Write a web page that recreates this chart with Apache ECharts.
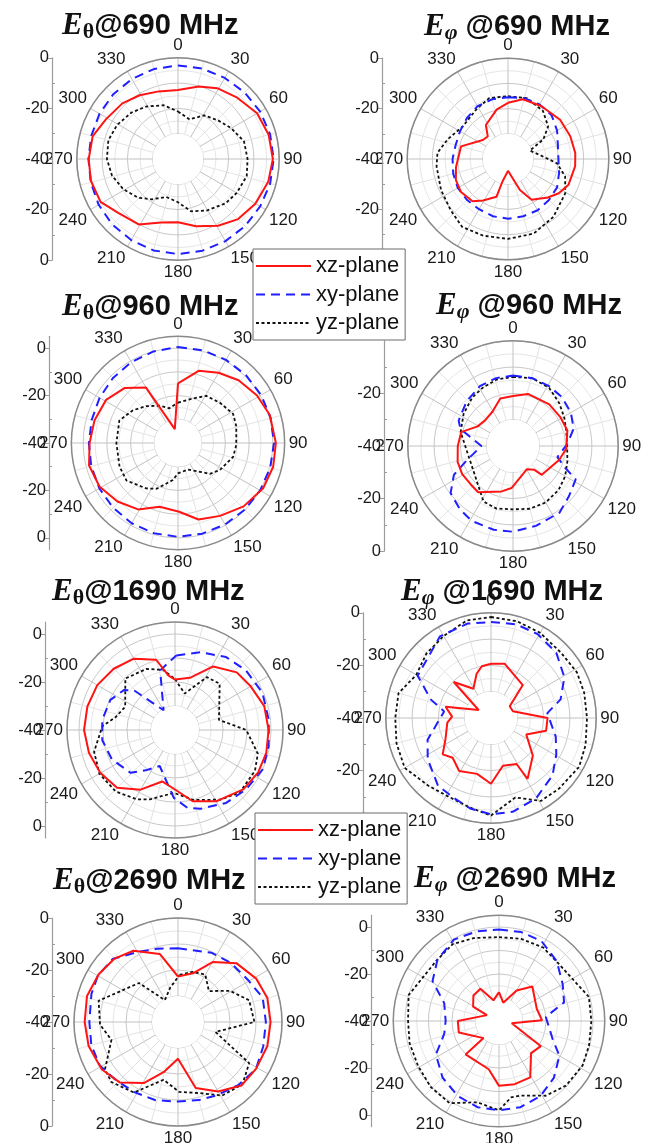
<!DOCTYPE html>
<html>
<head>
<meta charset="utf-8">
<script src="https://cdn.jsdelivr.net/npm/echarts@6/dist/echarts.min.js"></script>
<style>
  html, body { margin: 0; padding: 0; background: #ffffff; }
  #chart { width: 651px; height: 1143px; }
</style>
</head>
<body>
<div id="chart"></div>
<script>
// Radiation patterns: normalised gain (dB) versus angle (deg) for three cut planes.
// Each array holds [angle, gain] vertices of one measured curve.
const FREQS = ['690', '960', '1690', '2690'];
const PLANES = ['xz-plane', 'xy-plane', 'yz-plane'];
const ANGLE_TICKS = [0, 30, 60, 90, 120, 150, 180, 210, 240, 270, 300, 330];
const SCALE_TICKS = [0, -20, -40, -20, 0];

// E-theta, 690 MHz
const thetaXz690 = [[0,-12.7],[16,-10.2],[29,-8],[44,-6.3],[60,-3.9],[75,-2.9],[90,-2.5],[104,-3.2],[120,-4.7],[135,-6.4],[149,-9.2],[165,-12.5],[180,-15],[195,-14],[211,-9.8],[228,-8.2],[241,-5],[256,-4.5],[270,-4.7],[285,-5.1],[299,-7.5],[315,-8.9],[329,-10.6],[344,-12.2]];
const thetaXy690 = [[0,-3],[15,-3],[30,-3],[45,-2.8],[60,-2.5],[75,-2.3],[90,-2.2],[105,-2.3],[120,-2.5],[135,-2.5],[150,-2.5],[165,-2.5],[180,-2.4],[195,-2.6],[210,-3],[225,-3.3],[240,-3.8],[255,-4.3],[270,-4.6],[285,-4.5],[300,-4.2],[315,-3.8],[330,-3.5],[345,-3.2]];
const thetaYz690 = [[0,-21.2],[16,-23.7],[31,-19.9],[46,-18],[60,-15.7],[75,-13],[90,-12.5],[104,-12],[120,-13.2],[133,-14.3],[151,-16.7],[166,-18.7],[180,-22.9],[197,-24.3],[213,-21],[226,-18],[241,-15.3],[256,-13.1],[270,-11.9],[285,-11.5],[299,-12.4],[315,-14],[329,-15.8],[345,-18]];

// E-phi, 690 MHz
const phiXz690 = [[0,-17.7],[14,-15.6],[32,-15.2],[53,-14.1],[70,-13.7],[85,-13.2],[96,-13.2],[113,-13.9],[124,-15.7],[134,-18],[150,-21.3],[159,-26.8],[180,-35.3],[194,-30.7],[197,-24.3],[211,-20.8],[220,-18.1],[235,-17.2],[248,-17.7],[261,-19.1],[285,-20.7],[307,-27.5],[318,-28],[327,-23.9],[347,-19.9]];
const phiXy690 = [[0,-15.5],[15,-15],[30,-15],[45,-15.5],[60,-17.5],[75,-19.5],[90,-20],[105,-19],[120,-17.5],[135,-17],[150,-16.5],[165,-16.5],[180,-16.3],[195,-16.5],[210,-17],[225,-17],[240,-17],[255,-17.5],[270,-18],[285,-18.5],[300,-18],[315,-17],[330,-15.8],[345,-15.5]];
const phiYz690 = [[0,-15.1],[17,-14.7],[36,-16.4],[51,-19.5],[61,-24],[69,-30.7],[83,-27.2],[95,-20.5],[107,-16.3],[121,-13.5],[142,-10.8],[161,-8.7],[180,-8.3],[198,-8],[214,-7.5],[228,-9.5],[245,-10.7],[264,-11.5],[275,-11.9],[288,-14.8],[306,-17.9],[327,-16.7],[343,-14.7]];

// E-theta, 960 MHz
const thetaXz960 = [[0,-14.8],[16,-8.3],[30,-5.8],[44,-3.2],[59,-1.1],[73,0.5],[90,1.3],[104,1.4],[118,0.7],[134,-1.5],[150,-4.5],[165,-6.6],[179,-11],[196,-12],[211,-7.3],[226,-4.5],[241,-2.1],[256,-1.3],[270,-2.7],[285,-3.5],[301,-4.6],[316,-7.7],[330,-13],[347,-34]];
const thetaXy960 = [[0,0.5],[15,0.5],[30,0.5],[45,0.5],[60,0.5],[75,0.5],[90,0.5],[105,0.3],[120,0],[135,-0.2],[150,-0.3],[165,-0.4],[180,-0.4],[195,-0.6],[210,-0.9],[225,-1.3],[240,-1.7],[255,-2.1],[270,-2.4],[285,-2.3],[300,-1.8],[315,-1.2],[330,-0.6],[345,0]];
const thetaYz960 = [[0,-23],[19,-20.1],[31,-16.8],[46,-15.5],[62,-13.7],[74,-14.4],[92,-15.4],[104,-16],[123,-19],[134,-21.3],[143,-24.8],[159,-28],[180,-27.2],[188,-24.2],[205,-18.7],[215,-16.6],[234,-13.1],[248,-13.4],[270,-14],[291,-13.5],[306,-16.5],[319,-19.4],[334,-22.5],[346,-24.9],[357,-23.5]];

// E-phi, 960 MHz
const phiXz960 = [[0,-21],[16,-19.4],[41,-19],[59,-18.9],[74,-18.5],[93,-19.7],[107,-21.7],[135,-24.5],[138,-27.8],[149,-29.7],[182,-24],[194,-22.2],[217,-18],[228,-18.3],[241,-17.9],[254,-18.1],[270,-19],[285,-19.6],[299,-24.6],[312,-25.6],[329,-24.8],[345,-21.3]];
const phiXy960 = [[0,-13.2],[16,-13.2],[31,-13.4],[45,-13.7],[60,-14.6],[74,-16],[88,-19.4],[104,-22.6],[113,-18.3],[118,-13],[132,-11.4],[145,-9.1],[164,-8.4],[180,-7.4],[193,-7.3],[209,-7.5],[220,-8.6],[233,-10.3],[244,-15],[253,-21.7],[270,-28],[288,-19],[295,-17.2],[314,-15.5],[331,-14],[346,-13.4]];
const phiYz960 = [[0,-13.7],[16,-13.2],[32,-14],[47,-16],[61,-17.7],[75,-19],[90,-19.4],[106,-18.5],[120,-17.1],[134,-15.9],[150,-15.2],[165,-15.3],[180,-15.9],[195,-15.4],[208,-16.1],[227,-21],[244,-22.6],[263,-22.4],[285,-19.4],[303,-17.6],[320,-15.9],[333,-15],[346,-14]];

// E-theta, 1690 MHz
const thetaXz1690 = [[0,-19],[16,-17.4],[31,-9.1],[47,-4.8],[60,-3.6],[75,-1.5],[90,-1],[104,-0.8],[117,-1.1],[131,-2.3],[150,-5.7],[166,-9.4],[180,-15.2],[194,-17.9],[210,-11.3],[225,-5.9],[240,-4.1],[255,-2.9],[270,-2.1],[285,-2.2],[300,-2.6],[315,-3.9],[330,-5.7],[345,-9.7],[353,-17.1]];
const thetaXy1690 = [[1,-9],[18,-5.9],[35,-2.9],[50,-1.4],[67,-0.4],[84,-0.7],[100,-0.4],[114,0.1],[130,-1.4],[145,-2.9],[162,-5.5],[171,-7.2],[181,-11.7],[203,-23.7],[215,-19.7],[226,-14.3],[245,-11],[262,-9.4],[278,-9.4],[295,-10.3],[308,-13],[314,-16.1],[330,-30.5],[346,-14.4]];
const thetaYz1690 = [[0,-18.8],[15,-24.3],[31,-14.3],[44,-13.2],[77,-21.2],[90,-10.3],[106,-4.1],[117,-2.6],[134,-2.5],[147,-5.4],[165,-9.8],[181,-13.8],[200,-9.2],[209,-7],[224,-4.4],[240,-3.6],[255,-5.1],[273,-9.7],[282,-14.6],[295,-17.1],[316,-10.2],[335,-11.9],[349,-14.5]];

// E-phi, 1690 MHz
const phiXz1690 = [[0,-19.4],[14,-18.7],[44,-22.6],[58,-31.6],[73,-31.3],[90,-18.5],[103,-18.5],[115,-25.2],[132,-18.6],[149,-13],[151,-20],[166,-21.3],[180,-15],[194,-18.1],[211,-16.5],[224,-19],[233,-17],[245,-20.9],[264,-23.3],[272,-25.2],[284,-22.2],[303,-34.4],[314,-20.3],[329,-27],[342,-22.3],[350,-20]];
const phiXy1690 = [[0,-3.5],[15,-3.1],[29,-3.5],[45,-4.9],[61,-8.1],[75,-12.6],[85,-18.5],[106,-14.4],[119,-11.6],[133,-8],[151,-4.9],[167,-3.4],[180,-3.4],[193,-4.7],[205,-6.5],[218,-7.3],[237,-11.3],[251,-14.5],[268,-20.3],[278,-22],[287,-16.1],[300,-7.8],[328,-3.4],[346,-3]];
const phiYz1690 = [[0,-1.6],[15,-1.9],[30,-2.6],[47,-3.6],[62,-3],[75,-3.3],[90,-3.5],[106,-2.6],[119,-1.7],[136,-2.7],[149,-3.2],[163,-8.4],[180,-2.9],[193,-5],[208,-6],[223,-4.9],[240,-2.1],[255,-2.8],[270,-3.6],[285,-3.6],[300,-7.2],[315,-5.3],[330,-4],[346,-1.8]];

// E-theta, 2690 MHz
const thetaXz2690 = [[0,-22.5],[17,-20.4],[30,-13.4],[45,-8.1],[61,-5.6],[75,-4.4],[90,-4.4],[105,-4.4],[121,-5],[135,-5.5],[150,-9.1],[165,-13.7],[180,-25.9],[196,-19.9],[209,-13.2],[224,-7.7],[238,-5.5],[255,-4.4],[270,-4.1],[286,-3.6],[301,-4.4],[315,-5.5],[328,-7.7],[345,-12.9]];
const thetaXy2690 = [[0,-11.6],[26,-10.4],[42,-9.5],[59,-8.6],[74,-6.1],[90,-6.2],[106,-5.9],[121,-5],[136,-6.4],[152,-8.1],[165,-8.9],[180,-9.4],[196,-8.7],[212,-8.2],[228,-7.2],[241,-5.6],[255,-5.5],[270,-5.9],[288,-5],[300,-4.4],[314,-5.1],[330,-8.9],[344,-10.7]];
const thetaYz2690 = [[2,-21.9],[16,-19.9],[30,-19],[45,-23.2],[59,-16.7],[73,-11.4],[90,-10.6],[105,-25.1],[120,-8.4],[134,-5.5],[149,-7],[163,-11.4],[179,-13.1],[194,-17.1],[212,-8],[228,-5.5],[237,-6.5],[255,-13.5],[268,-10],[285,-8.4],[315,-18.8],[329,-30.2],[347,-26.5]];

// E-phi, 2690 MHz
const phiXz2690 = [[0,-27.7],[13,-32],[30,-25],[44,-19.6],[72,-23.1],[89,-21.7],[100,-34.5],[121,-19.2],[135,-20.7],[151,-12.6],[166,-12.3],[180,-12.4],[192,-19],[225,-19.9],[222,-30.2],[254,-22.2],[270,-22.5],[296,-34.3],[299,-27.4],[315,-24.6],[330,-24.2],[345,-30.9]];
const phiXy2690 = [[0,-1.1],[14,-1],[28,-1.5],[44,-4.6],[60,-8.7],[74,-11.2],[85,-20],[109,-15.8],[120,-10.3],[136,-6.4],[151,-3.5],[166,-2.2],[180,-2],[194,-2.2],[209,-3.6],[225,-6],[242,-9.6],[257,-16.1],[270,-17.3],[288,-15.5],[301,-7],[315,-3],[331,-0.4],[346,-0.7]];
const phiYz2690 = [[0,-4.3],[15,-3.8],[31,-3.5],[47,-4.8],[60,-4],[75,-0.4],[90,-0.7],[105,-0.3],[118,0.3],[134,-0.4],[148,-2.5],[164,-7],[171,-7.1],[180,-2],[195,-4.2],[211,0.8],[226,0.4],[241,-0.6],[256,-0.8],[270,-1.3],[286,0],[300,-2.7],[314,-3],[329,-1.8],[343,-3.1]];

// Panel order: row by row, E-theta on the left, E-phi on the right.
const PANEL_DATA = [
  [thetaXz690, thetaXy690, thetaYz690],
  [phiXz690, phiXy690, phiYz690],
  [thetaXz960, thetaXy960, thetaYz960],
  [phiXz960, phiXy960, phiYz960],
  [thetaXz1690, thetaXy1690, thetaYz1690],
  [phiXz1690, phiXy1690, phiYz1690],
  [thetaXz2690, thetaXy2690, thetaYz2690],
  [phiXz2690, phiXy2690, phiYz2690]
];

// Layout of each polar panel: centre, px per dB, top of the gain range,
// x of the side scale, title position, and whether the scale's top label is drawn.
const LAYOUT = [
  { cx: 178, cy: 159, k: 2.53, top: 0, axisX: 52, tx: 57, ty: 3, topLabel: true },
  { cx: 508, cy: 159, k: 2.52, top: 0, axisX: 382, tx: 419, ty: 4, topLabel: true },
  { cx: 178, cy: 443, k: 2.37, top: 5, axisX: 49, tx: 57, ty: 284, topLabel: true },
  { cx: 513, cy: 446, k: 2.63, top: 0, axisX: 384, tx: 431, ty: 283, topLabel: false },
  { cx: 175, cy: 730, k: 2.4, top: 5, axisX: 45, tx: 47, ty: 569, topLabel: true },
  { cx: 491, cy: 718, k: 2.63, top: 0, axisX: 363, tx: 396, ty: 569, topLabel: true },
  { cx: 178, cy: 1022, k: 2.6, top: 0, axisX: 52, tx: 48, ty: 858, topLabel: true },
  { cx: 499, cy: 1021, k: 2.35, top: 5, axisX: 371, tx: 409, ty: 856, topLabel: true }
];

const LINE_STYLES = [
  { color: '#ff1414', width: 2, type: 'solid' },
  { color: '#1f1fff', width: 2, type: [9, 6] },
  { color: '#111111', width: 1.8, type: [3, 2.5] }
];

const FONT = '"Liberation Sans", Arial, sans-serif';
const TEXT = '#1a1a1a';

const polar = [], angleAxis = [], radiusAxis = [], grid = [], xAxis = [], yAxis = [];
const series = [], title = [];

// ring through which the hub of every panel is blanked (grid starts at -30 dB)
const HUB = [];
for (let a = 0; a <= 360; a += 10) HUB.push([-30, a]);

LAYOUT.forEach((p, i) => {
  const R = (40 + p.top) * p.k;
  polar.push({ center: [p.cx, p.cy], radius: R });

  angleAxis.push({
    polarIndex: i, type: 'value', min: 0, max: 360, interval: 15,
    startAngle: 90, clockwise: true,
    axisLine: { lineStyle: { color: '#8a8a8a', width: 1.5 } },
    axisTick: { show: false },
    axisLabel: {
      margin: 4, fontSize: 17, color: TEXT, fontFamily: FONT,
      formatter: v => (ANGLE_TICKS.indexOf(v) >= 0 ? String(v) : '')
    },
    splitLine: { lineStyle: { color: ['#c2c2c2', '#e3e3e3'], width: 1 } }
  });

  radiusAxis.push({
    polarIndex: i, type: 'value', min: -40, max: p.top, interval: 5,
    axisLine: { show: false }, axisTick: { show: false }, axisLabel: { show: false },
    splitLine: { lineStyle: { color: ['#c8c8c8', '#e6e6e6'], width: 1 } }
  });

  // side gain scale: 0 at the rim, -40 at the centre, 0 at the opposite rim
  const span = 40 + p.top;
  grid.push({ left: p.axisX, top: p.cy - R, width: 10, height: 2 * R });
  xAxis.push({ gridIndex: i, type: 'value', show: false, min: 0, max: 1 });
  let major = SCALE_TICKS.map((t, j) => (j < 2 ? 40 + t : j === 2 ? 0 : -(40 + t)));
  if (!p.topLabel) major = major.slice(1);
  yAxis.push({
    gridIndex: i, type: 'value', min: -span, max: span, position: 'left',
    axisLine: { show: true, lineStyle: { color: '#9c9c9c', width: 1.2 } },
    axisTick: { show: true, customValues: major, length: 4, lineStyle: { color: '#9c9c9c' } },
    axisLabel: {
      customValues: major, margin: 3, fontSize: 16.5, color: TEXT, fontFamily: FONT,
      formatter: v => String(Math.abs(v) - 40)
    },
    splitLine: { show: false }
  });
  yAxis.push({
    gridIndex: i, type: 'value', min: -span, max: span, position: 'left',
    axisLine: { show: false },
    axisTick: { show: true, inside: true, customValues: [-30, -10, 10, 30], length: 3, lineStyle: { color: '#9c9c9c' } },
    axisLabel: { show: false },
    splitLine: { show: false }
  });

  const isPhi = i % 2 === 1;
  title.push({
    left: p.tx, top: p.ty,
    text: '{e|E}{s|' + (isPhi ? 'φ' : 'θ') + '}{t|' + (isPhi ? ' ' : '') + '@' + FREQS[Math.floor(i / 2)] + ' MHz}',
    textStyle: {
      rich: {
        e: { fontFamily: '"Liberation Serif", serif', fontStyle: 'italic', fontWeight: 'bold', fontSize: 31, color: '#111', lineHeight: 36 },
        s: { fontFamily: '"Liberation Serif", serif', fontStyle: isPhi ? 'italic' : 'normal', fontWeight: 'bold', fontSize: 22, color: '#111', lineHeight: 36, padding: [12, 0, 0, 0] },
        t: { fontFamily: FONT, fontSize: 29, color: '#111', lineHeight: 36 }
      }
    }
  });

  // white hub covering the centre of the grid
  series.push({
    type: 'line', coordinateSystem: 'polar', polarIndex: i, data: HUB,
    symbol: 'none', silent: true, z: 1,
    lineStyle: { width: 0, color: '#ffffff' },
    areaStyle: { color: '#ffffff', opacity: 1, origin: 'start' }
  });

  // draw yz first, then xy, then xz on top
  [2, 1, 0].forEach(j => {
    const pts = PANEL_DATA[i][j];
    const data = pts.map(d => [d[1], d[0]]);
    data.push([pts[0][1], pts[0][0] + 360]);
    series.push({
      name: PLANES[j], type: 'line', coordinateSystem: 'polar', polarIndex: i,
      data: data, symbol: 'none', smooth: false, silent: true, z: 3 + (2 - j),
      lineStyle: LINE_STYLES[j], itemStyle: { color: LINE_STYLES[j].color }
    });
  });
});

const legendBase = {
  data: PLANES, orient: 'vertical', selectedMode: false, z: 20,
  itemWidth: 55, itemHeight: 14, itemGap: 6.5,
  itemStyle: { opacity: 0 },
  backgroundColor: '#ffffff', borderColor: '#6a6a6a', borderWidth: 1,
  padding: [6, 6, 6, 2],
  textStyle: { fontSize: 22, fontFamily: FONT, color: '#111' }
};

const chart = echarts.init(document.getElementById('chart'), null, { renderer: 'canvas', width: 651, height: 1143 });
chart.setOption({
  animation: false,
  backgroundColor: '#ffffff',
  textStyle: { fontFamily: FONT },
  title: title,
  legend: [
    Object.assign({ left: 253, top: 249 }, legendBase),
    Object.assign({ left: 255, top: 813 }, legendBase)
  ],
  polar: polar,
  angleAxis: angleAxis,
  radiusAxis: radiusAxis,
  grid: grid,
  xAxis: xAxis,
  yAxis: yAxis,
  series: series
});
</script>
</body>
</html>
